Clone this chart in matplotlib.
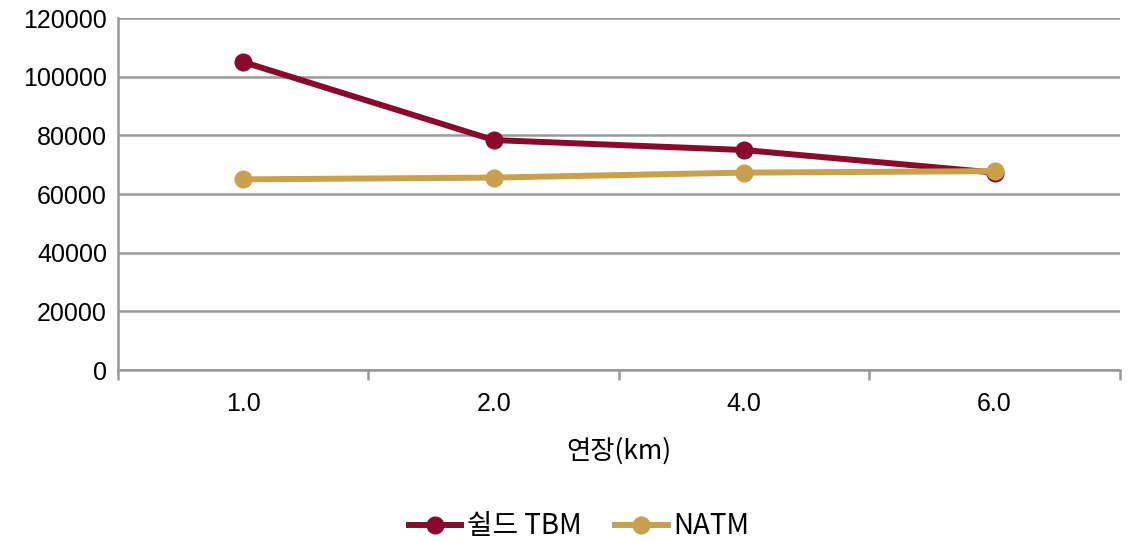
import matplotlib.pyplot as plt
import numpy as np

plt.rcParams['font.family'] = ['Liberation Sans', 'Noto Sans CJK KR', 'DejaVu Sans']

# 연장별 공사비 비교
lengths = ['1.0', '2.0', '4.0', '6.0']
tbm = [105000, 78400, 75000, 67300]
natm = [65000, 65600, 67300, 67800]

fig = plt.figure(figsize=(11.35, 5.41), dpi=100)
ax = fig.add_axes([0.104, 0.316, 0.8826, 0.6507])

x = np.arange(len(lengths))
ax.plot(x, tbm, color='#8A0A2E', lw=4.3, marker='o', ms=12, label='쉴드 TBM', zorder=3)
ax.plot(x, natm, color='#C9A14C', lw=4.3, marker='o', ms=12, label='NATM', zorder=4)

ax.set_xlim(-0.5, len(lengths) - 0.5)
ax.set_ylim(0, 120000)
ax.set_yticks(np.arange(0, 120001, 20000))
ax.yaxis.grid(True, color='#999999', lw=1.8)
ax.set_axisbelow(True)

ax.set_xticks(x)
ax.set_xticklabels(lengths)
ax.set_xticks(np.arange(-0.5, len(lengths)), minor=True)
ax.tick_params(axis='x', which='major', length=0, pad=16, labelsize=18)
ax.tick_params(axis='x', which='minor', length=7, width=1.8, color='#999999', direction='out')
ax.tick_params(axis='y', length=0, pad=8, labelsize=18)

for side in ['top', 'right']:
    ax.spines[side].set_visible(False)
for side in ['left', 'bottom']:
    ax.spines[side].set_color('#999999')
    ax.spines[side].set_linewidth(1.8)

ax.set_xlabel('연장(km)', fontsize=19, family=['Noto Sans CJK KR', 'DejaVu Sans'], labelpad=15)

fig.legend(*ax.get_legend_handles_labels(), loc='center', bbox_to_anchor=(0.51, 0.027),
           ncol=2, frameon=False, borderpad=0.1,
           prop={'family': ['Noto Sans CJK KR', 'DejaVu Sans'], 'size': 20},
           handlelength=1.9, columnspacing=1.2, handletextpad=0.2)

fig.savefig('out.png', dpi=100)
